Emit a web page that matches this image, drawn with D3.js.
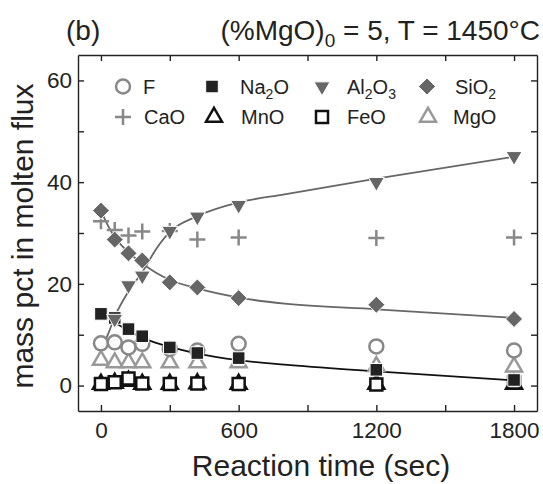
<!DOCTYPE html>
<html>
<head>
<meta charset="utf-8">
<script src="https://cdn.jsdelivr.net/npm/d3@7"></script>
<style>
  body { margin: 0; background: #fff; }
  text { font-family: "Liberation Sans", Arial, sans-serif; fill: #222; }
</style>
</head>
<body>
<svg id="chart" width="543" height="484"></svg>
<script>
// measured points
const times = [0, 60, 120, 180, 300, 420, 600, 1200, 1800];
const F     = [8.3, 8.5, 7.5, 8.2, 7.2, 6.9, 8.2, 7.7, 6.9];
const Na2O  = [14.1, 13.3, 11.1, 9.7, 7.5, 6.4, 5.4, 3.1, 1.1];
const Al2O3 = [null, 13.1, 19.7, 21.6, 30.4, 33.2, 35.5, 40.0, 45.1];
const SiO2  = [34.4, 28.7, 26.0, 24.6, 20.3, 19.3, 17.2, 15.9, 13.1];
const CaO   = [32.3, 30.6, 29.5, 30.3, 30.4, 28.7, 29.1, 29.0, 29.1];
const MnO   = [0.3, 0.5, 0.9, 0.3, 0.3, 0.4, 0.3, 0.3, 0.3];
const FeO   = [0.3, 0.65, 1.4, 0.4, 0.3, 0.4, 0.3, 0.2, 0.6];
const MgO   = [5.0, 4.5, 4.5, 4.5, 4.5, 4.5, 4.5, 3.8, 3.7];

// fitted curves
const fitTimes = [0, 30, 60, 120, 180, 240, 300, 420, 600, 800, 1200, 1800];
const alFit = [7, 10, 13.5, 18.5, 22.3, 26.8, 30.2, 33.3, 36, 37.6, 40.7, 45];
const siFit = [34.4, 31.5, 29.2, 26.2, 24.0, 22.2, 20.8, 19.1, 17.3, 16.1, 15.0, 13.3];
const naFit = [14.1, 13.2, 12.4, 10.8, 9.4, 8.4, 7.6, 6.3, 5.0, 4.1, 2.8, 1.0];

const xMajor = [0, 600, 1200, 1800];
const yMajor = [0, 20, 40, 60];

const svg = d3.select("#chart");

const x = d3.scaleLinear().domain([-100, 1900]).range([78, 537]);
const y = d3.scaleLinear().domain([-5, 65]).range([411, 55]);

// marker shapes
function shape(kind, s) {
    switch (kind) {
        case "circle":
            return `M${s},0A${s},${s} 0 1,1 ${-s},0A${s},${s} 0 1,1 ${s},0Z`;
        case "square":
            return `M${-s},${-s}H${s}V${s}H${-s}Z`;
        case "up":
            return `M0,${-s * 1.15}L${s},${s * 0.58}L${-s},${s * 0.58}Z`;
        case "down":
            return `M0,${s * 1.15}L${s},${-s * 0.58}L${-s},${-s * 0.58}Z`;
        case "diamond":
            return `M0,${-s}L${s},0L0,${s}L${-s},0Z`;
        case "plus":
            return `M${-s},0H${s}M0,${-s}V${s}`;
    }
}

const series = [
    {name: "MnO", vals: MnO, kind: "up", s: 8, fill: "#fff", stroke: "#111", sw: 2.5},
    {name: "FeO", vals: FeO, kind: "square", s: 6, fill: "#fff", stroke: "#111", sw: 2.5},
    {name: "MgO", vals: MgO, kind: "up", s: 8, fill: "#fff", stroke: "#999", sw: 2.5},
    {name: "F", vals: F, kind: "circle", s: 7, fill: "#fff", stroke: "#888", sw: 2.5},
    {name: "Na2O", vals: Na2O, kind: "square", s: 6.3, fill: "#222", stroke: "#fff", sw: 1},
    {name: "CaO", vals: CaO, kind: "plus", s: 8, fill: "none", stroke: "#888", sw: 2.5},
    {name: "SiO2", vals: SiO2, kind: "diamond", s: 8.5, fill: "#666", stroke: "#fff", sw: 1},
    {name: "Al2O3", vals: Al2O3, kind: "down", s: 8, fill: "#666", stroke: "#fff", sw: 1}
];
const byName = {};
series.forEach(d => byName[d.name] = d);

// fitted lines
const line = d3.line()
    .x(d => x(d[0]))
    .y(d => y(d[1]))
    .curve(d3.curveMonotoneX);

[[alFit, "#666"], [siFit, "#666"], [naFit, "#111"]].forEach(([vals, col]) => {
    svg.append("path")
        .datum(fitTimes.map((t, i) => [t, vals[i]]))
        .attr("fill", "none")
        .attr("stroke", col)
        .attr("stroke-width", 1.8)
        .attr("d", line);
});

// markers
series.forEach(sr => {
    svg.append("g")
        .selectAll("path")
        .data(times.map((t, i) => [t, sr.vals[i]]).filter(d => d[1] !== null))
        .enter()
        .append("path")
        .attr("transform", d => `translate(${x(d[0])},${y(d[1])})`)
        .attr("d", shape(sr.kind, sr.s))
        .attr("fill", sr.fill)
        .attr("stroke", sr.stroke)
        .attr("stroke-width", sr.sw);
});

// axes with inward ticks
const xTicks = d3.range(0, 1801, 300);
const yTicks = d3.range(0, 61, 10);

svg.append("g")
    .attr("transform", "translate(0,411)")
    .call(d3.axisBottom(x).tickValues(xTicks).tickSizeInner(-6).tickSizeOuter(0).tickPadding(11)
        .tickFormat(d => xMajor.includes(d) ? d : ""));
svg.append("g")
    .attr("transform", "translate(0,55)")
    .call(d3.axisTop(x).tickValues(xTicks).tickSizeInner(-6).tickSizeOuter(0).tickFormat(""));
svg.append("g")
    .attr("transform", "translate(78,0)")
    .call(d3.axisLeft(y).tickValues(yTicks).tickSizeInner(-6).tickSizeOuter(0).tickPadding(6)
        .tickFormat(d => yMajor.includes(d) ? d : ""));
svg.append("g")
    .attr("transform", "translate(537,0)")
    .call(d3.axisRight(y).tickValues(yTicks).tickSizeInner(-6).tickSizeOuter(0).tickFormat(""));

svg.selectAll(".domain").attr("stroke", "#222").attr("stroke-width", 1.4);
svg.selectAll(".tick line").attr("stroke", "#222").attr("stroke-width", 1.4);
svg.selectAll(".tick text")
    .style("font-family", "'Liberation Sans', Arial, sans-serif")
    .attr("font-size", 22.5)
    .attr("fill", "#222");

// axis titles
svg.append("text")
    .attr("x", 321).attr("y", 476)
    .attr("text-anchor", "middle")
    .attr("font-size", 30)
    .text("Reaction time (sec)");

svg.append("text")
    .attr("transform", "translate(33,236) rotate(-90)")
    .attr("text-anchor", "middle")
    .attr("font-size", 30)
    .text("mass pct in molten flux");

// title
svg.append("text")
    .attr("x", 66).attr("y", 40)
    .attr("font-size", 28)
    .text("(b)");

const title = svg.append("text")
    .attr("x", 540).attr("y", 40)
    .attr("text-anchor", "end")
    .attr("font-size", 28);
title.append("tspan").text("(%MgO)");
title.append("tspan").attr("font-size", 19).attr("dy", 7).text("0");
title.append("tspan").attr("dy", -7).text(" = 5, T = 1450\u00B0C");

// legend
const legendItems = [
    {name: "F", label: ["F"], lx: 123, tx: 143, ly: 86.5},
    {name: "Na2O", label: ["Na", "2", "O"], lx: 212, tx: 240, ly: 86.5},
    {name: "Al2O3", label: ["Al", "2", "O", "3"], lx: 322, tx: 347, ly: 86.5},
    {name: "SiO2", label: ["SiO", "2"], lx: 427, tx: 455, ly: 86.5},
    {name: "CaO", label: ["CaO"], lx: 123, tx: 144, ly: 117},
    {name: "MnO", label: ["MnO"], lx: 214, tx: 241, ly: 117},
    {name: "FeO", label: ["FeO"], lx: 322, tx: 347, ly: 117},
    {name: "MgO", label: ["MgO"], lx: 428, tx: 453, ly: 117}
];

legendItems.forEach(it => {
    const sr = byName[it.name];
    svg.append("path")
        .attr("transform", `translate(${it.lx},${it.ly})`)
        .attr("d", shape(sr.kind, sr.s))
        .attr("fill", sr.fill)
        .attr("stroke", sr.stroke)
        .attr("stroke-width", sr.sw);
    const t = svg.append("text")
        .attr("x", it.tx).attr("y", it.ly + 7)
        .attr("font-size", 20);
    it.label.forEach((part, i) => {
        const sub = i % 2 === 1;
        const ts = t.append("tspan").text(part);
        if (sub) ts.attr("font-size", 14).attr("dy", 5);
        else if (i > 0) ts.attr("dy", -5);
    });
});
</script>
</body>
</html>
